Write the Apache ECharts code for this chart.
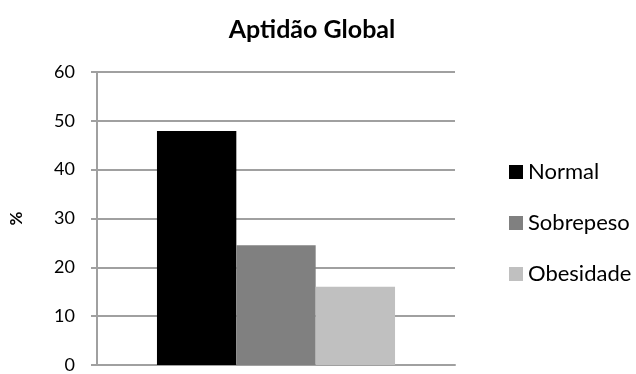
<!DOCTYPE html>
<html>
<head>
<meta charset="utf-8">
<script src="https://cdn.jsdelivr.net/npm/echarts@6/dist/echarts.min.js"></script>
<style>
  html, body { margin: 0; padding: 0; background: #fff; }
  #chart { width: 636px; height: 374px; }
</style>
</head>
<body>
<div id="chart"></div>
<script>
// Percentage of students per fitness class
const categories = [''];
const seriesNames = ['Normal', 'Sobrepeso', 'Obesidade'];
const normalValues = [47.9];
const sobrepesoValues = [24.5];
const obesidadeValues = [16.0];
const yTicks = { min: 0, max: 60, interval: 10 };

const colors = ['#000000', '#808080', '#c0c0c0'];
const values = [normalValues, sobrepesoValues, obesidadeValues];
const font = 'Lato, "Open Sans", sans-serif';
const gridColor = '#a0a0a0';

const chart = echarts.init(document.getElementById('chart'), null, { renderer: 'canvas' });
chart.setOption({
  animation: false,
  backgroundColor: '#ffffff',
  title: {
    text: 'Aptidão Global',
    left: 307,
    textAlign: 'center',
    top: 12,
    textStyle: { fontFamily: font, fontWeight: 'bold', fontSize: 25, color: '#000' }
  },
  legend: {
    orient: 'vertical',
    left: 504,
    top: 156,
    itemWidth: 14,
    itemHeight: 14,
    itemGap: 29,
    icon: 'rect',
    data: seriesNames,
    textStyle: { fontFamily: font, fontSize: 22, color: '#000', lineHeight: 18, padding: [0, 0, 0, 0] }
  },
  grid: { left: 94, right: 181, top: 72, bottom: 5, containLabel: false },
  xAxis: {
    type: 'category',
    data: categories,
    axisLine: { show: true, lineStyle: { color: gridColor, width: 2 } },
    axisTick: { show: false },
    axisLabel: { show: false }
  },
  yAxis: {
    type: 'value',
    min: yTicks.min,
    max: yTicks.max,
    interval: yTicks.interval,
    name: '%',
    nameLocation: 'middle',
    nameRotate: 90,
    nameGap: 72,
    nameTextStyle: { fontFamily: font, fontWeight: 'bold', fontSize: 17, color: '#000' },
    axisLine: { show: true, lineStyle: { color: gridColor, width: 2 } },
    axisTick: { show: true, length: 6, lineStyle: { color: gridColor, width: 2 } },
    axisLabel: { margin: 22, fontFamily: font, fontSize: 18, color: '#000' },
    splitLine: { show: true, lineStyle: { color: gridColor, width: 2 } }
  },
  series: seriesNames.map((name, i) => ({
    name,
    type: 'bar',
    data: values[i],
    barGap: '0%',
    barCategoryGap: '33.5%',
    itemStyle: { color: colors[i] }
  }))
});
</script>
</body>
</html>
